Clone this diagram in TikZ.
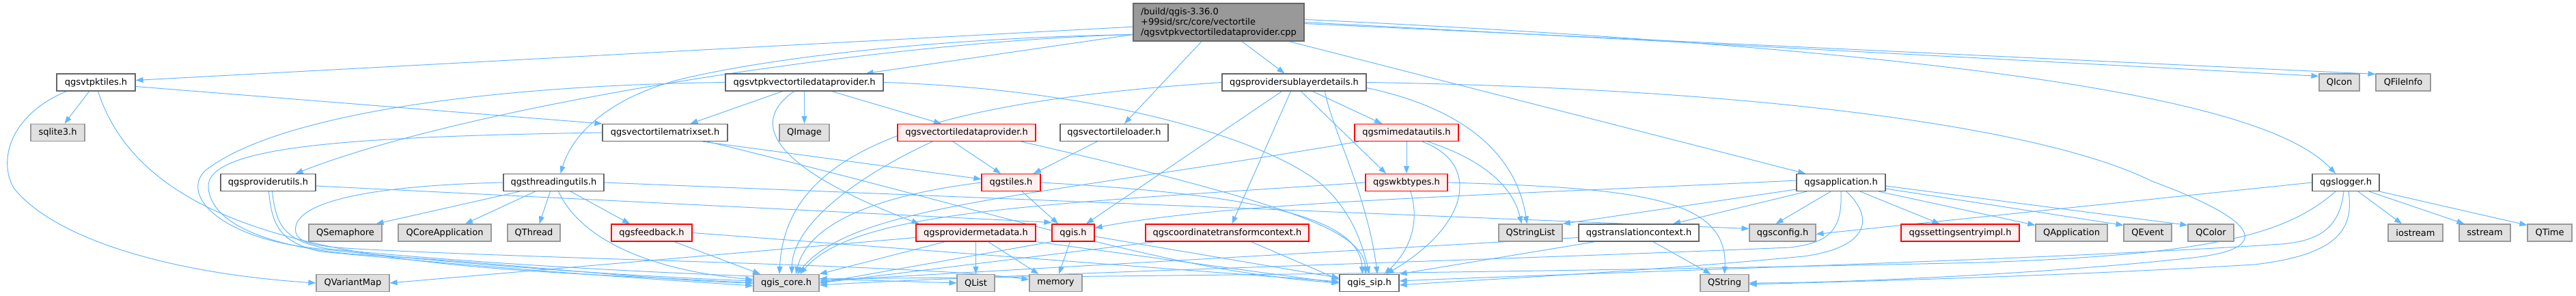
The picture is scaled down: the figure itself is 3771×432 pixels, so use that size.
\documentclass[tikz,border=0pt]{standalone}
\usepackage{fontspec}
\setmainfont{DejaVu Sans}
\usetikzlibrary{arrows.meta,backgrounds}

\definecolor{incline}{HTML}{63B8FF}
\definecolor{hdrline}{HTML}{666666}
\definecolor{sysline}{HTML}{999999}
\definecolor{sysfill}{HTML}{E0E0E0}
\definecolor{partfill}{HTML}{FFF0F0}
\definecolor{rootfill}{HTML}{999999}

\tikzset{
  box/.style={draw, line width=1.2pt, inner xsep=4pt, inner ysep=0pt, minimum height=25pt,
    font=\fontsize{13}{15}\selectfont},
  hdr/.style={box, draw=hdrline, fill=white},
  sys/.style={box, draw=sysline, fill=sysfill},
  part/.style={box, draw=red, fill=partfill},
  root/.style={box, draw=hdrline, fill=rootfill, align=left, minimum height=55pt},
  inc/.style={incline, line width=1pt, -{Triangle[length=11pt,width=8pt]}}
}

\begin{document}
\begin{tikzpicture}[x=1pt,y=-1pt]

    \useasboundingbox (0,0) rectangle (3771,432);

    % The file itself
    \node[root, minimum width=250] (root) at (1784,32.5) {/build/qgis-3.36.0\\+99sid/src/core/vectortile\\/qgsvtpkvectortiledataprovider.cpp};

    % Direct includes
    \node[hdr, minimum width=115] (vtpktiles) at (140.5,120.5) {qgsvtpktiles.h};
    \node[hdr, minimum width=231] (vtpkdp) at (1177.5,120.5) {qgsvtpkvectortiledataprovider.h};
    \node[hdr, minimum width=211] (sublayer) at (1894.5,120.5) {qgsprovidersublayerdetails.h};
    \node[sys, minimum width=59] (qicon) at (3424.5,120.5) {QIcon};
    \node[sys, minimum width=80] (qfileinfo) at (3518,120.5) {QFileInfo};

    % Third row
    \node[sys, minimum width=79] (sqlite) at (84.5,194) {sqlite3.h};
    \node[hdr, minimum width=183] (matrixset) at (973.5,194) {qgsvectortilematrixset.h};
    \node[sys, minimum width=73] (qimage) at (1177.5,194) {QImage};
    \node[part, minimum width=202] (vtdp) at (1415,194) {qgsvectortiledataprovider.h};
    \node[hdr, minimum width=158] (loader) at (1631,194) {qgsvectortileloader.h};
    \node[part, minimum width=152] (mimedata) at (2059,194) {qgsmimedatautils.h};

    % Fourth row
    \node[hdr, minimum width=139] (provutils) at (392.5,267) {qgsproviderutils.h};
    \node[hdr, minimum width=147] (threading) at (810.5,267) {qgsthreadingutils.h};
    \node[part, minimum width=86] (tiles) at (1480,267) {qgstiles.h};
    \node[part, minimum width=120] (wkbtypes) at (2059,267) {qgswkbtypes.h};
    \node[hdr, minimum width=130] (app) at (2695,267) {qgsapplication.h};
    \node[hdr, minimum width=98] (logger) at (3434,267) {qgslogger.h};

    % Fifth row
    \node[sys, minimum width=107] (qsemaphore) at (505.5,340.5) {QSemaphore};
    \node[sys, minimum width=136] (qcoreapp) at (651,340.5) {QCoreApplication};
    \node[sys, minimum width=77] (qthread) at (781.5,340.5) {QThread};
    \node[part, minimum width=118] (feedback) at (954,340.5) {qgsfeedback.h};
    \node[part, minimum width=175] (provmeta) at (1428.5,340.5) {qgsprovidermetadata.h};
    \node[part, minimum width=62] (qgis) at (1571,340.5) {qgis.h};
    \node[part, minimum width=239] (ctcontext) at (1796.5,340.5) {qgscoordinatetransformcontext.h};
    \node[sys, minimum width=93] (qstringlist) at (2240.5,340.5) {QStringList};
    \node[hdr, minimum width=176] (transctx) at (2399,340.5) {qgstranslationcontext.h};
    \node[sys, minimum width=97] (qgsconfig) at (2609.5,340.5) {qgsconfig.h};
    \node[part, minimum width=173] (settingsimpl) at (2869.5,340.5) {qgssettingsentryimpl.h};
    \node[sys, minimum width=105] (qapplication) at (3032.5,340.5) {QApplication};
    \node[sys, minimum width=70] (qevent) at (3144,340.5) {QEvent};
    \node[sys, minimum width=67] (qcolor) at (3236.5,340.5) {QColor};
    \node[sys, minimum width=80] (iostream) at (3536,340.5) {iostream};
    \node[sys, minimum width=75] (sstream) at (3637.5,340.5) {sstream};
    \node[sys, minimum width=65] (qtime) at (3732.5,340.5) {QTime};

    % Bottom row
    \node[sys, minimum width=107] (qvariantmap) at (516.5,414) {QVariantMap};
    \node[sys, minimum width=96] (qgiscore) at (1151,414) {qgis\_core.h};
    \node[sys, minimum width=55] (qlist) at (1428.5,414) {QList};
    \node[sys, minimum width=77] (memory) at (1545.5,414) {memory};
    \node[hdr, minimum width=87] (qgissip) at (2004.5,414) {qgis\_sip.h};
    \node[sys, minimum width=71] (qstring) at (2524.5,414) {QString};

    \begin{scope}[on background layer]

    % Includes of the file itself
    \draw[inc] (root) -- (vtpktiles);
    \draw[inc] ([yshift=-18]root.west) .. controls (1300,60) and (700,150) .. ([xshift=40]provutils.north);
    \draw[inc] ([yshift=-18]root.west) .. controls (1400,55) and (1150,80) .. (1000,115) .. controls (900,140) and (840,190) .. ([xshift=10]threading.north);
    \draw[inc] (root) -- ([xshift=90]vtpkdp.north);
    \draw[inc] ([xshift=-25]root.south) -- ([xshift=15]loader.north);
    \draw[inc] ([xshift=34]root.south) -- ([xshift=-14]sublayer.north);
    \draw[inc] ([xshift=103]root.south) -- ([xshift=-52]app.north);
    \draw[inc] (root.east) -- ([yshift=-4]qicon.north west);
    \draw[inc] ([yshift=-2]root.east) -- ([yshift=-1]qfileinfo.north west);
    \draw[inc] ([yshift=4]root.east) .. controls (3000,80) and (3330,160) .. ([xshift=-15]logger.north);

    % qgsvtpktiles.h
    \draw[inc] (vtpktiles) -- (sqlite);
    \draw[inc] ([yshift=-6]vtpktiles.east) -- (matrixset.north west);
    \draw[inc] ([xshift=-43]vtpktiles.south) .. controls (20,165) and (-5,230) .. (20,275) .. controls (80,350) and (250,400) .. (qvariantmap.west);
    \draw[inc] ([xshift=3]vtpktiles.south) .. controls (230,400) and (700,390) .. (qgiscore.west);

    % qgsvectortilematrixset.h
    \draw[inc] ([xshift=55]matrixset.south) -- ([yshift=5]tiles.west);
    \draw[inc] ([xshift=62]matrixset.south) .. controls (1500,320) and (1700,395) .. (qgissip.west);
    \draw[inc] (matrixset.west) .. controls (500,200) and (300,215) .. (305,275) .. controls (310,330) and (400,362) .. (520,372) .. controls (750,385) and (950,410) .. (qgiscore.west);

    % qgsvtpkvectortiledataprovider.h
    \draw[inc] ([xshift=-32]vtpkdp.south) -- ([xshift=37]matrixset.north);
    \draw[inc] (vtpkdp) -- (qimage);
    \draw[inc] ([xshift=40]vtpkdp.south) -- ([xshift=-37]vtdp.north);
    \draw[inc] ([xshift=-15]vtpkdp.south) .. controls (1095,180) and (1130,245) .. ([xshift=5]provmeta.north west);
    \draw[inc] (vtpkdp.west) .. controls (700,125) and (400,170) .. (300,250) .. controls (265,285) and (320,345) .. (450,362) .. controls (700,390) and (950,405) .. ([yshift=3]qgiscore.west);
    \draw[inc] (vtpkdp.east) .. controls (1600,130) and (1850,200) .. (1935,270) .. controls (1980,310) and (1995,360) .. (qgissip.north);

    % qgsvectortiledataprovider.h and qgsvectortileloader.h
    \draw[inc] ([xshift=-20]vtdp.south) -- ([xshift=-15]tiles.north);
    \draw[inc] ([xshift=-50]vtdp.south) .. controls (1250,260) and (1160,330) .. ([xshift=8]qgiscore.north);
    \draw[inc] ([xshift=80]vtdp.south) .. controls (1900,300) and (1995,340) .. ([xshift=-5]qgissip.north);
    \draw[inc] ([xshift=-25]loader.south) -- ([xshift=33]tiles.north);

    % qgstiles.h
    \draw[inc] ([xshift=16]tiles.south) -- ([xshift=-22]qgis.north);
    \draw[inc] (tiles.west) .. controls (1250,290) and (1180,340) .. ([xshift=14]qgiscore.north);
    \draw[inc] (tiles.east) .. controls (1850,285) and (1990,320) .. ([xshift=-10]qgissip.north);

    % qgis.h
    \draw[inc] (qgis) -- (memory);
    \draw[inc] (qgis.south west) -- (qgiscore.east);
    \draw[inc] (qgis) -- (qgissip);

    % qgsprovidermetadata.h
    \draw[inc] (provmeta) -- (qlist);
    \draw[inc] ([xshift=18]provmeta.south) -- ([xshift=-25]memory.north);
    \draw[inc] ([xshift=-45]provmeta.south) -- (qgiscore.north east);
    \draw[inc] ([yshift=-7]provmeta.west) -- (qvariantmap.east);
    \draw[inc] (provmeta.south east) -- (qgissip.west);

    % qgsfeedback.h
    \draw[inc] ([xshift=33]feedback.south) -- ([xshift=-38]qgiscore.north);
    \draw[inc] (feedback.east) -- ([yshift=2]qgissip.west);

    % qgsthreadingutils.h
    \draw[inc] ([xshift=-50]threading.south) -- ([xshift=45]qsemaphore.north);
    \draw[inc] ([xshift=-27]threading.south) -- ([xshift=30]qcoreapp.north);
    \draw[inc] ([xshift=-5]threading.south) -- ([xshift=8]qthread.north);
    \draw[inc] ([xshift=25]threading.south) -- ([xshift=-32]feedback.north);
    \draw[inc] ([xshift=7]threading.south) .. controls (850,350) and (950,395) .. ([yshift=5]qgiscore.west);
    \draw[inc] (threading.west) .. controls (520,272) and (425,300) .. (433,340) .. controls (438,360) and (480,362) .. (560,366) .. controls (900,382) and (1350,388) .. ([yshift=5]memory.west);
    \draw[inc] (threading.east) -- ([yshift=6]qgsconfig.west);

    % qgsproviderutils.h
    \draw[inc] ([yshift=-5]provutils.east) -- ([yshift=2]qgis.north west);
    \draw[inc] ([xshift=1]provutils.south) .. controls (398,330) and (410,355) .. (470,368) .. controls (700,390) and (900,405) .. ([yshift=-4]qgiscore.west);
    \draw[inc] ([xshift=6]provutils.south) .. controls (404,330) and (416,352) .. (480,364) .. controls (800,395) and (1100,405) .. (qlist.west);

    % qgsprovidersublayerdetails.h
    \draw[inc] ([xshift=27]sublayer.south) -- ([xshift=-36]mimedata.north);
    \draw[inc] ([xshift=10]sublayer.south) -- ([xshift=-30]wkbtypes.north);
    \draw[inc] ([xshift=-5]sublayer.south) -- ([xshift=7]ctcontext.north);
    \draw[inc] ([xshift=-18]sublayer.south) -- ([xshift=19]qgis.north);
    \draw[inc] ([yshift=-8]sublayer.east) .. controls (2150,160) and (2220,230) .. ([xshift=-5]qstringlist.north);
    \draw[inc] (sublayer.west) .. controls (1350,150) and (1150,220) .. ([xshift=-10]qgiscore.north);
    \draw[inc] ([xshift=45]sublayer.south) .. controls (1950,190) and (2000,280) .. ([xshift=12]qgissip.north);
    \draw[inc] (sublayer.east) .. controls (2600,130) and (3000,190) .. (3150,265) .. controls (3300,320) and (3340,365) .. (3200,378) .. controls (3000,400) and (2700,414) .. (qstring.east);

    % qgsmimedatautils.h
    \draw[inc] (mimedata) -- (wkbtypes);
    \draw[inc] ([xshift=-70]mimedata.south) .. controls (1500,290) and (1250,300) .. ([xshift=16]qgiscore.north);
    \draw[inc] ([xshift=23]mimedata.south) .. controls (2170,240) and (2150,330) .. ([xshift=25]qgissip.north);
    \draw[inc] ([xshift=31]mimedata.south) .. controls (2175,235) and (2215,275) .. ([xshift=-13]qstringlist.north);

    % qgswkbtypes.h
    \draw[inc] (wkbtypes.west) .. controls (1500,300) and (1250,310) .. ([xshift=20]qgiscore.north);
    \draw[inc] ([xshift=6]wkbtypes.south) .. controls (2080,330) and (2060,370) .. ([xshift=22]qgissip.north);
    \draw[inc] (wkbtypes.east) .. controls (2400,275) and (2530,290) .. (qstring.north);

    % qgscoordinatetransformcontext.h
    \draw[inc] ([xshift=-105]ctcontext.south) -- (qgiscore.east);
    \draw[inc] ([xshift=35]ctcontext.south) -- ([yshift=5]qgissip.west);

    % qgsapplication.h
    \draw[inc] ([xshift=-15]app.south) -- ([xshift=-10]qgsconfig.north);
    \draw[inc] ([xshift=28]app.south) -- ([xshift=-30]settingsimpl.north);
    \draw[inc] ([xshift=55]app.south) -- ([yshift=-2]qapplication.north west);
    \draw[inc] ([yshift=-9]app.east) -- ([yshift=-2]qevent.north west);
    \draw[inc] ([yshift=-5]app.east) -- ([yshift=-2]qcolor.north west);
    \draw[inc] ([yshift=-10]app.west) -- (qstringlist.north east);
    \draw[inc] ([xshift=-50]app.south) -- ([xshift=50]transctx.north);
    \draw[inc] ([yshift=3]app.west) .. controls (2200,285) and (1800,295) .. ([yshift=7]qgis.east);
    \draw[inc] (app.south) .. controls (2697,335) and (2680,355) .. (2620,362) .. controls (2200,380) and (1500,400) .. ([yshift=-3]qgiscore.east);
    \draw[inc] ([xshift=8]app.south) .. controls (2745,320) and (2735,362) .. (2640,375) .. controls (2400,398) and (2150,410) .. ([yshift=-3]qgissip.east);

    % qgstranslationcontext.h
    \draw[inc] ([xshift=-64]transctx.south) -- (qgissip.north east);
    \draw[inc] ([xshift=21]transctx.south) -- ([xshift=-20]qstring.north);
    \draw[inc] ([yshift=-7]transctx.west) -- ([yshift=3]qgiscore.east);

    % qgslogger.h
    \draw[inc] (logger.west) -- ([yshift=-2]qgsconfig.east);
    \draw[inc] ([xshift=18]logger.south) -- ([xshift=-20]iostream.north);
    \draw[inc] ([xshift=34]logger.south) -- ([xshift=-30]sstream.north);
    \draw[inc] (logger.south east) -- ([yshift=-2]qtime.north west);
    \draw[inc] ([xshift=-15]logger.south) .. controls (3350,340) and (3250,372) .. (2900,384) .. controls (2200,400) and (1500,405) .. ([yshift=6]qgiscore.east);
    \draw[inc] ([xshift=-3]logger.south) .. controls (3425,330) and (3400,352) .. (3340,357) .. controls (3000,380) and (2300,400) .. ([yshift=3]qgissip.east);
    \draw[inc] ([xshift=4]logger.south) .. controls (3445,330) and (3430,372) .. (3300,387) .. controls (3000,405) and (2700,412) .. ([yshift=-2]qstring.east);

    \end{scope}

\end{tikzpicture}
\end{document}
